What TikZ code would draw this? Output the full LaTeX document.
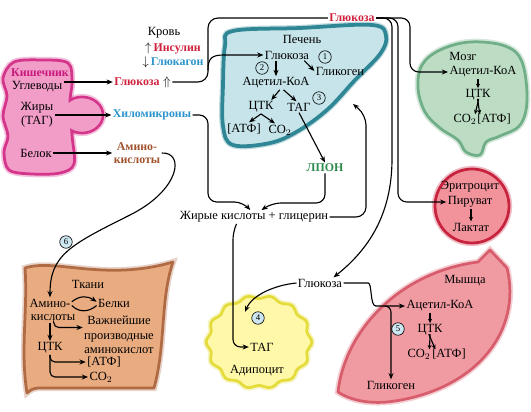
\documentclass[tikz,border=0pt]{standalone}
\usepackage{fontspec}
\setmainfont{Liberation Serif}
\usetikzlibrary{arrows.meta, positioning}

\definecolor{glcred}{HTML}{D0213D}
\definecolor{gcgblue}{HTML}{2C94CC}
\definecolor{aabrown}{HTML}{A0522D}
\definecolor{lpgreen}{HTML}{2E8B4E}
\definecolor{gutdark}{HTML}{D4348A}
\definecolor{gutfill}{HTML}{F29CC8}
\definecolor{gutlabel}{HTML}{C8197E}
\definecolor{liverdark}{HTML}{2F8796}
\definecolor{liverfill}{HTML}{C6E4EA}
\definecolor{braindark}{HTML}{6FAE86}
\definecolor{brainfill}{HTML}{BCDDC4}
\definecolor{erydark}{HTML}{C8233E}
\definecolor{eryfill}{HTML}{F2939C}
\definecolor{musdark}{HTML}{D85D6C}
\definecolor{musfill}{HTML}{F09AA2}
\definecolor{adidark}{HTML}{E4DC3A}
\definecolor{adifill}{HTML}{FFF8A8}
\definecolor{tisdark}{HTML}{B06A44}
\definecolor{tisfill}{HTML}{E9AC80}
\definecolor{numfill}{HTML}{CDE6F0}

\begin{document}
\begin{tikzpicture}[x=0.8pt, y=-0.8pt, >={Stealth[length=5pt, width=4pt]},
  every node/.style={align=center, inner sep=1pt, font=\fontsize{10}{11.5}\selectfont},
  lbl/.style={font=\fontsize{9.5}{10}\selectfont\bfseries},
  num/.style={circle, draw, line width=0.5pt, inner sep=0pt, minimum size=10pt, font=\scriptsize},
  numb/.style={num, fill=numfill},
  arr/.style={->, line width=0.9pt},
  short/.style={->, line width=0.9pt, >={Stealth[length=3.5pt, width=3.2pt]}},
  fork/.style={short, shorten <=-2.5pt, shorten >=-1.5pt},
  link/.style={line width=0.9pt},
  organ/.style 2 args={draw=#1, fill=#2, line width=2.2pt, line join=round,
    preaction={draw=#1, draw opacity=0.3, line width=5pt}}]

  \useasboundingbox (0,0) rectangle (531,411);

  % Kishechnik
  \path[organ={gutdark}{gutfill}] (82,115) ellipse [x radius=21, y radius=18];
  \path[organ={gutdark}{gutfill}] plot[smooth cycle, tension=0.55] coordinates
    {(14,62) (42,60) (68,63) (72,82) (70,102) (72,135) (74,164) (60,173) (32,174) (9,170) (4,152) (8,136) (3,116) (7,96) (3,78)};
  \fill[gutfill] (82,115) ellipse [x radius=19.5, y radius=16.5];

  % Pechen
  \path[organ={liverdark}{liverfill}, line width=3pt] plot[smooth cycle, tension=0.6] coordinates
    {(233,31) (300,28) (372,25) (386,36) (380,54) (355,80) (328,109) (298,131) (270,143) (233,145) (223,126) (223,85) (225,46)};

  % Mozg
  \path[organ={braindark}{brainfill}] plot[smooth cycle, tension=0.6] coordinates
    {(422,65) (440,50) (470,42) (505,46) (522,62) (527,100) (520,125) (500,136) (486,142) (480,155) (466,152) (458,140) (440,128) (425,112) (418,88)};

  % Eritrocit
  \path[organ={erydark}{eryfill}] (472,206) circle [radius=37];

  % Myshca
  \path[organ={musdark}{musfill}] (338,392) .. controls (345,330) and (400,272) .. (478,262)
    -- (490,250) -- (507,268) .. controls (522,330) and (478,388) .. (395,401)
    .. controls (370,405) and (350,400) .. cycle;

  % Adipocit
  \path[organ={adidark}{adifill}] plot[domain=0:357.5, samples=144, smooth cycle]
    ({259+51*(1+0.035*cos(14*\x))*cos(\x)}, {342+45*(1+0.035*cos(14*\x))*sin(\x)});

  % Tkani
  \path[organ={tisdark}{tisfill}] (25,268) .. controls (55,258) and (105,282) .. (173,262)
    .. controls (160,300) and (166,345) .. (154,388) -- (38,388) .. controls (32,389) .. (27,393)
    .. controls (20,350) and (28,310) .. cycle;

  % krov
  \node (blood) at (164,33) {Кровь};
  \node (insulin) at (173,48) {$\uparrow$\,\textbf{\fontsize{9.5}{10}\selectfont\color{glcred}Инсулин}};
  \node (glucagon) at (173,62) {$\downarrow$\,\textbf{\fontsize{9.5}{10}\selectfont\color{gcgblue}Глюкагон}};
  \node[lbl, text=glcred] (glcblood) at (352,18) {Глюкоза};

  % kishechnik
  \node[lbl, text=gutlabel] (gut) at (40,73) {Кишечник};
  \node (carbs) at (37,87) {Углеводы};
  \node (fats) at (37,115) {Жиры\\(ТАГ)};
  \node (protein) at (36,153) {Белок};
  \node[lbl, text=glcred] (glcgut) at (137,82) {Глюкоза};
  \node (uparr) at (167,82) {$\Uparrow$};
  \node[lbl, text=gcgblue] (chylo) at (152,115) {Хиломикроны};
  \node[lbl, text=aabrown] (amino) at (137,153) {Амино-\\кислоты};

  % pechen
  \node (liver) at (302,39) {Печень};
  \node (glcliver) at (287,55) {Глюкоза};
  \node[num] (n1) at (325,57) {1};
  \node (glyliver) at (340,71) {Гликоген};
  \node[num] (n2) at (262,68) {2};
  \node (acoaliver) at (276,83) {Ацетил-КоА};
  \node (tcaliver) at (261,107) {ЦТК};
  \node (tagliver) at (299,107) {ТАГ};
  \node[num] (n3) at (319,98) {3};
  \node (atpliver) at (244,129) {[АТФ]};
  \node (co2liver) at (280,130) {CO$_2$};
  \node[lbl, text=lpgreen] (lpon) at (325,168) {ЛПОН};
  \coordinate (liverret) at (353,104);

  % mozg
  \node (brain) at (463,56) {Мозг};
  \node (acoabrain) at (483,72) {Ацетил-КоА};
  \node (tcabrain) at (478,95) {ЦТК};
  \node (co2brain) at (465,119) {CO$_2$};
  \node (atpbrain) at (494,119) {[АТФ]};

  % eritrocit
  \node (ery) at (470,187) {Эритроцит};
  \node (pyr) at (470,202) {Пируват};
  \node (lac) at (471,227) {Лактат};

  % zhirnye kisloty
  \node (fa) at (254,217) {Жирые кислоты + глицерин};

  % adipocit
  \node (glcbot) at (320,283) {Глюкоза};
  \node[numb] (n4) at (258,318) {4};
  \node (tagadi) at (262,347) {ТАГ};
  \node (adipo) at (257,371) {Адипоцит};
  \coordinate (adiin) at (245,312);

  % myshca
  \node (muscle) at (465,281) {Мышца};
  \node (acoamus) at (440,306) {Ацетил-КоА};
  \node[numb] (n5) at (398,329) {5};
  \node (tcamus) at (430,330) {ЦТК};
  \node (co2mus) at (419,354) {CO$_2$};
  \node (atpmus) at (449,354) {[АТФ]};
  \node (glymus) at (391,385) {Гликоген};
  \coordinate (musfork) at (385,306);

  % tkani
  \node (tissue) at (88,284) {Ткани};
  \node (aatis1) at (50,303) {Амино-};
  \node (aatis2) at (53,318) {кислоты};
  \node (prottis) at (114,303) {Белки};
  \node (derivtis) at (119,335) {Важнейшие\\производные\\аминокислот};
  \node (tcatis) at (50,348) {ЦТК};
  \node (atptis) at (104,362) {[АТФ]};
  \node (co2tis) at (101,377) {CO$_2$};
  \node[numb] (n6) at (66,242) {6};

  % kishechnik -> krov
  \draw[arr] (carbs.east |- glcgut.west) -- (glcgut.west);
  \draw[arr] (fats.east |- chylo.west) -- (chylo.west);
  \draw[arr] (protein.east |- amino.west) -- (amino.west);

  % glukoza krovi
  \coordinate (bloodfork) at (208,70);
  \draw[link, rounded corners=8pt] (uparr.east) -- (208,82) -- (208,18) -- (glcblood.west);
  \draw[arr] (bloodfork) .. controls (208,58) and (212,55) .. (224,55) -- (glcliver.west);
  \draw[arr, rounded corners=7pt] (glcblood.east) -- (410,18) |- (acoabrain.west);
  \draw[arr, rounded corners=7pt] (glcblood.east) -- (398,18) |- (pyr.west);
  \draw[arr, rounded corners=7pt] (glcblood.east) -- (392,18) -- (392,150)
    .. controls (392,215) and (368,250) .. ([xshift=-8pt]glcbot.north east);

  % pechen
  \draw[arr] (acoaliver.north |- glcliver.south) -- (acoaliver.north);
  \draw[arr] ([xshift=-5pt]glcliver.south east) -- (glyliver.west);
  \draw[arr] ([xshift=3pt]acoaliver.south) -- ([xshift=-3pt]tcaliver.north east);
  \draw[arr] ([xshift=6pt]acoaliver.south) -- ([xshift=-2pt]tagliver.north);
  \draw[arr] (tcaliver.south) -- ([xshift=4pt]atpliver.north);
  \draw[arr] (tcaliver.south) -- ([xshift=-4pt]co2liver.north);
  \draw[arr] (tagliver.south) -- (lpon.north);

  % lipoproteiny -> zhirnye kisloty
  \draw[arr, rounded corners=7pt] (chylo.east) -- (208,115) -- (208,202) -- (243,202) -- ([xshift=-3pt]fa.north);
  \draw[arr, rounded corners=7pt] (lpon.south) -- (325,203) -- (272,203) -- ([xshift=6pt]fa.north);
  \draw[arr, rounded corners=8pt] (fa.east) -- (366,217) -- (366,115) -- (liverret);
  \draw[arr, rounded corners=6pt] ([xshift=-14pt]fa.south) -- (233,232) -- (233,347) -- (tagadi.west);

  % mozg, eritrocit
  \draw[short] (tcabrain.north |- acoabrain.south) -- (tcabrain.north);
  \draw[fork] (tcabrain.south) -- ([xshift=-2pt]co2brain.north east);
  \draw[fork] (tcabrain.south) -- ([xshift=3pt]atpbrain.north west);
  \draw[short] (lac.north |- pyr.south) -- (lac.north);

  % adipocit, myshca
  \draw[arr] (glcbot.west) .. controls (275,285) and (252,295) .. (adiin);
  \draw[arr, rounded corners=5pt] (glcbot.east) -- (362,283) .. controls (372,283) and (370,306) .. (382,306) -- (acoamus.west);
  \draw[arr, rounded corners=5pt] (musfork) -| (glymus.north);
  \draw[short] (tcamus.north |- acoamus.south) -- (tcamus.north);
  \draw[fork] (tcamus.south) -- ([xshift=-2pt]co2mus.north east);
  \draw[fork] (tcamus.south) -- ([xshift=3pt]atpmus.north west);

  % aminokisloty -> tkani
  \draw[arr] (amino.east) .. controls (185,152) and (180,190) .. (130,215)
    .. controls (70,245) and (50,255) .. (aatis1.north);
  \draw[arr] ([yshift=1pt]aatis1.east) .. controls (80,295) and (88,296) .. ([yshift=1pt]prottis.west);
  \draw[link] ([yshift=-2pt]prottis.west) .. controls (88,313) and (78,312) .. ([yshift=-2pt]aatis1.east);
  \draw[arr] (tcatis.north |- aatis2.south) -- (tcatis.north);
  \draw[arr, rounded corners=4pt] ([xshift=3pt]tcatis.north |- aatis2.south) |- ([yshift=6pt]derivtis.west);
  \draw[arr, rounded corners=4pt] (tcatis.south) |- (atptis.west);
  \draw[arr, rounded corners=4pt] (tcatis.south) |- (co2tis.west);

\end{tikzpicture}
\end{document}
